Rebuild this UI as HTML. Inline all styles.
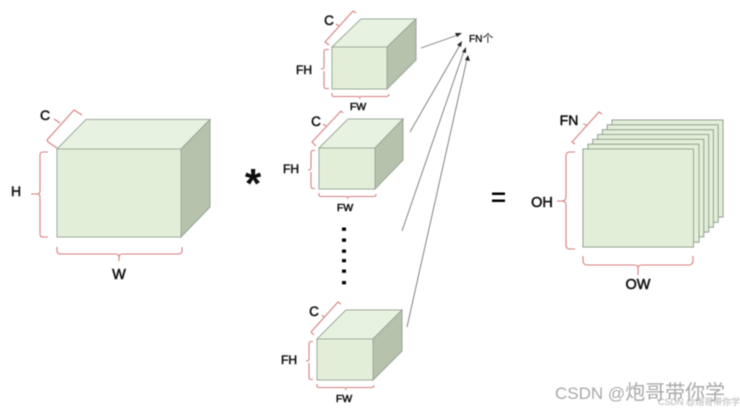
<!DOCTYPE html>
<html>
<head>
<meta charset="utf-8">
<style>
html,body{margin:0;padding:0;background:#fff}
body{width:740px;height:413px;overflow:hidden}
svg{display:block}
text{font-family:"Liberation Sans","Noto Sans CJK SC",sans-serif;fill:#111}
.l{stroke:#111;stroke-width:.5;text-anchor:middle}
.b{fill:none;stroke:#d67f7f;stroke-width:1.100}
.a{stroke:#777;stroke-width:.9;fill:none}
.h{fill:#222}
.d{fill:#000}
</style>
</head>
<body>
<svg width="740" height="413" viewBox="0 0 740 413" xmlns="http://www.w3.org/2000/svg">
<defs>
<filter id="s" x="-5%" y="-5%" width="110%" height="110%"><feGaussianBlur stdDeviation="0.4"/></filter>
<filter id="w" x="-5%" y="-20%" width="110%" height="140%"><feGaussianBlur stdDeviation="0.5"/></filter>
</defs>
<g filter="url(#s)">
<!-- Big cube -->
<g stroke="#95a595" stroke-width="1">
<polygon points="57,149 86,119.5 210,119.5 181,149" fill="#e8f2e0"/>
<polygon points="181,149 210,119.5 210,207 181,237" fill="#b6c2ac"/>
<rect x="57" y="149" width="124" height="88" fill="#e2eed8"/>
</g>
<path class="b" d="M48,152 H43 Q40,152 40,155 V191 Q40,194 37,194 H31 M37,194 Q40,194 40,197 V234 Q40,237 43,237 H48"/>
<path class="b" d="M57,247 V251 Q57,254 61,254 H115 Q119,254 119,257 V261 M119,257 Q119,254 123,254 H178 Q182,254 182,251 V247"/>
<path class="b" d="M57,148 L48,142 L47,140 L74,110 L82,115 M60,123 L54,119"/>
<text class="l" x="45" y="120" font-size="14">C</text>
<text class="l" x="16" y="196" font-size="14">H</text>
<text class="l" x="119" y="279" font-size="14.500">W</text>
<text x="253" y="198" font-size="42" font-weight="bold" text-anchor="middle">*</text>

<!-- Cube 1 -->
<g stroke="#95a595" stroke-width="1">
<polygon points="332,47 361,19 416,19 387,47" fill="#e8f2e0"/>
<polygon points="387,47 416,19 416,60 387,89" fill="#b6c2ac"/>
<rect x="332" y="47" width="55" height="42" fill="#e2eed8"/>
</g>
<path class="b" d="M329,49.500 H326 Q324,49.500 324,52 V67 Q324,69 321,69 M324,71 V86 Q324,88.500 326,88.500 H329"/>
<path class="b" d="M332,93 V95 Q332,96.500 334,96.500 H358 Q360,96.500 360,99 M360,96.500 H386 Q389,96.500 389,94"/>
<path class="b" d="M329,45 L325,42 L353,11 L356,13 M339,26 L336,24"/>
<text class="l" x="329" y="25" font-size="13.500">C</text>
<text class="l" x="304" y="74" font-size="12">FH</text>
<text class="l" x="358" y="110" font-size="10.500">FW</text>

<!-- Cube 2 -->
<g stroke="#95a595" stroke-width="1">
<polygon points="319,148 348,119 403,119 375,148" fill="#e8f2e0"/>
<polygon points="375,148 403,119 403,160 375,189" fill="#b6c2ac"/>
<rect x="319" y="148" width="56" height="41" fill="#e2eed8"/>
</g>
<path class="b" d="M315,150.500 H313 Q311,150.500 311,153 V168 Q311,170 308,170 M311,172 V186 Q311,188.500 313,188.500 H315"/>
<path class="b" d="M316,146 L312,142 L341,111 L343,113 M326,126 L323,124"/>
<path class="b" d="M319,193 V195 Q319,196.500 321,196.500 H346 Q348,196.500 348,199 M348,196.500 H374 Q376,196.500 376,194"/>
<text class="l" x="316" y="126" font-size="13.500">C</text>
<text class="l" x="291" y="173" font-size="12">FH</text>
<text class="l" x="345" y="211" font-size="10.500">FW</text>

<!-- Dots -->
<rect class="d" x="342" y="227.500" width="4" height="3.300"/>
<rect class="d" x="342" y="238.500" width="4" height="3.300"/>
<rect class="d" x="342" y="249.500" width="4" height="3.300"/>
<rect class="d" x="342" y="259" width="4" height="3.300"/>
<rect class="d" x="342" y="269.500" width="4" height="3.300"/>
<rect class="d" x="342" y="281" width="4" height="3.300"/>

<!-- Cube 3 -->
<g stroke="#95a595" stroke-width="1">
<polygon points="317,339 346,310 402,310 373,339" fill="#e8f2e0"/>
<polygon points="373,339 402,310 402,351 373,380" fill="#b6c2ac"/>
<rect x="317" y="339" width="56" height="41" fill="#e2eed8"/>
</g>
<path class="b" d="M313,341.500 H311 Q309,341.500 309,344 V359 Q309,361 306,361 M309,363 V377 Q309,379.500 311,379.500 H313"/>
<path class="b" d="M317,384 V386 Q317,387.500 319,387.500 H344 Q346,387.500 346,390 M346,387.500 H372 Q374,387.500 374,385"/>
<path class="b" d="M314,335 L311,332 L338,302 L341,304 M324,317 L322,315"/>
<text class="l" x="314" y="316" font-size="13.500">C</text>
<text class="l" x="289" y="364" font-size="12">FH</text>
<text class="l" x="344" y="402" font-size="10.500">FW</text>

<!-- Arrows -->
<line class="a" x1="421" y1="48" x2="458" y2="35"/>
<polygon class="h" points="462,33 457,37 455,33"/>
<line class="a" x1="410" y1="132" x2="460" y2="45"/>
<polygon class="h" points="462,41 461,47 457,45"/>
<line class="a" x1="402" y1="231" x2="464" y2="51"/>
<polygon class="h" points="466,47 466,53 462,52"/>
<line class="a" x1="407" y1="327" x2="467" y2="59"/>
<polygon class="h" points="468,55 470,61 465,60"/>
<text x="469" y="42" font-size="10" stroke="#111" stroke-width=".35">FN<tspan font-size="11" stroke="none">个</tspan></text>

<!-- Equals -->
<rect class="d" x="492" y="192.500" width="13" height="2.500"/>
<rect class="d" x="492" y="199.500" width="13" height="2.500"/>

<!-- Stack -->
<g fill="#e2eed8" stroke="#8a9a8a" stroke-width="1">
<rect x="612" y="120" width="111" height="97"/>
<rect x="607.200" y="124.800" width="111" height="97.500"/>
<rect x="602.400" y="129.700" width="111" height="97.500"/>
<rect x="597.700" y="134.500" width="111" height="97.500"/>
<rect x="592.800" y="139.300" width="111" height="97.500"/>
<rect x="588" y="144.200" width="111" height="98"/>
<rect x="583" y="149" width="110.500" height="98"/>
</g>
<path class="b" d="M575,152 H570 Q566,152 566,156 V197 Q566,201 562,201 H557 M562,201 Q566,201 566,205 V245 Q566,249 570,249 H575"/>
<path class="b" d="M583,256 V260 Q583,265 587,265 H634 Q638,265 638,268 V275 M638,268 Q638,265 642,265 H689 Q693,265 693,260 V256"/>
<path class="b" d="M575,144 L572,142 L599,112 L602,114 M587,125 L583,124"/>
<text class="l" x="569" y="125" font-size="14">FN</text>
<text class="l" x="542" y="207" font-size="14.500">OH</text>
<text class="l" x="638" y="289" font-size="14.500">OW</text>
</g>

<!-- Watermark -->
<g filter="url(#w)">
<text x="555" y="399" font-size="17" style="fill:#a8a8a8">CSDN @<tspan font-size="20">炮哥带你学</tspan></text>
<text x="658" y="405" font-size="9" style="fill:#b4b4b4">CSDN @炮哥带你学</text>
</g>
</svg>
</body>
</html>
